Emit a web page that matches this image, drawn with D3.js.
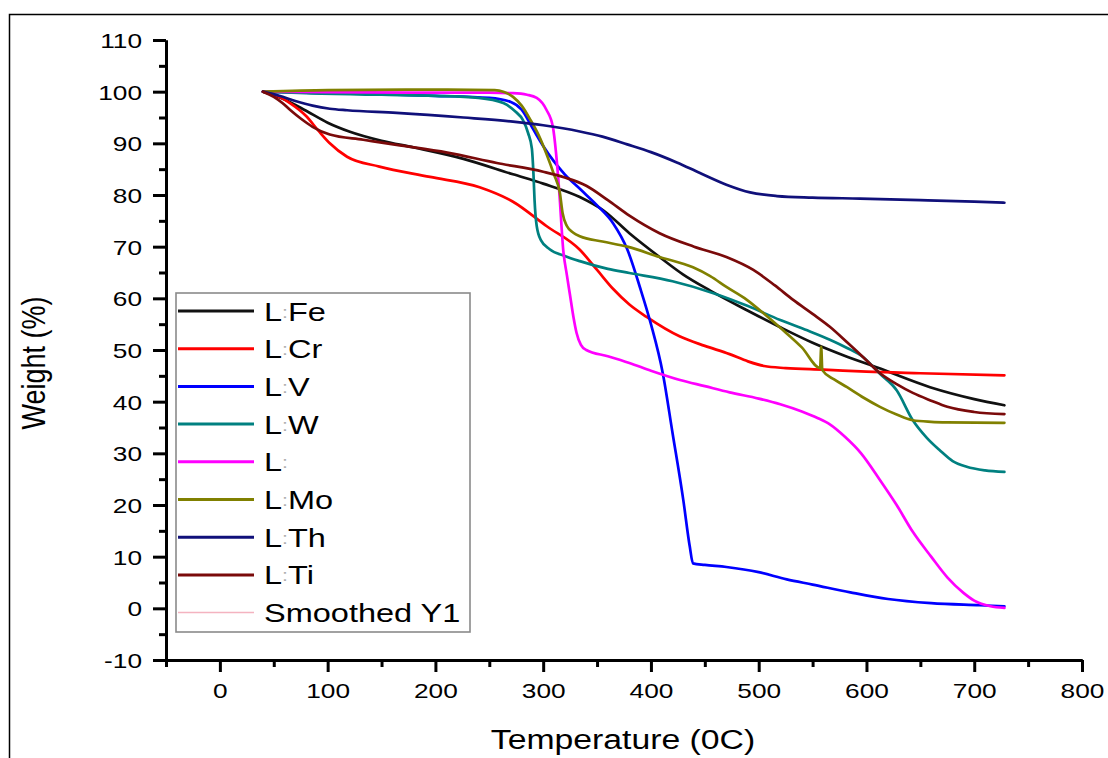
<!DOCTYPE html>
<html><head><meta charset="utf-8">
<script src="https://cdn.jsdelivr.net/npm/d3@7"></script>
<style>body{margin:0;background:#fff}svg{display:block}</style>
</head><body>
<svg id="c" width="1108" height="758"></svg>
<script>
// ---------- data ----------
const xMajorTicks = [0,100,200,300,400,500,600,700,800];
const xMinorTicks = [-50,50,150,250,350,450,550,650,750];
const yMajorTicks = [-10,0,10,20,30,40,50,60,70,80,90,100,110];
const yMinorTicks = [-5,5,15,25,35,45,55,65,75,85,95,105];

const seriesLabels = ["L:Fe","L:Cr","L:V","L:W","L:","L:Mo","L:Th","L:Ti","Smoothed Y1"];
const seriesColors = ["#111111","#ff0000","#0000ff","#008080","#ff00ff","#808000","#10107a","#7a0a0a","#f4b3c0"];

const dataFe = [[40,100],[60,98.5],[80,96.3],[100,94],[120,92.3],[150,90.5],[180,89.2],[226,87],[272,84],[300,82.2],[334,79.6],[356,77],[380,72.6],[408,68],[430,64.6],[455,61.5],[490,57.6],[520,54.4],[550,51.4],[582,48.7],[610,46.6],[659,42.8],[700,40.5],[728,39.3]];
const dataCr = [[40,100],[55,99],[65,97.8],[80,95.3],[92,92.3],[102,90],[118,87.4],[148,85.5],[195,83.5],[241,81.5],[272,78.7],[303,74],[334,69.4],[350,65.5],[365,61.8],[380,58.8],[396,56.4],[427,52.6],[450,50.8],[473,49.2],[490,47.8],[505,46.9],[525,46.5],[560,46.2],[600,45.8],[650,45.5],[728,45.1]];
const dataV = [[40,100],[80,99.8],[150,99.5],[200,99.2],[250,98.8],[270,98],[280,96.5],[290,93],[300,89.5],[310,86.5],[320,84],[335,81],[350,78],[365,74.5],[378,69.5],[390,62],[400,55],[411,45.5],[420,34],[430,21],[436,12],[439,8.7],[450,8.4],[470,8],[500,7],[526,5.6],[550,4.6],[585,3.1],[620,1.8],[660,1],[705,0.6],[728,0.4]];
const dataW = [[40,100],[80,99.7],[150,99.4],[200,99.2],[240,98.8],[263,97.8],[275,96],[281,94.6],[286,92],[289.5,89],[291,84],[292,79],[294,74],[298,71.2],[306,69.5],[320,68.2],[334,67.2],[360,65.7],[380,64.9],[420,63.3],[458,61],[490,58.5],[520,55.8],[545,53.8],[566,52],[582,50.4],[597,48.6],[612,45.5],[628,42.2],[643,36.4],[656,33],[668,30.6],[680,28.5],[693,27.4],[710,26.7],[728,26.4]];
const dataL = [[40,100],[100,99.9],[200,99.8],[250,99.8],[272,99.7],[285,99.4],[294,98.8],[303,96.5],[309,93.2],[312,88],[315,80.4],[318.6,69.4],[322,64.5],[325,60.5],[328,56.5],[331,53.3],[335,51],[340,50],[360,48.8],[380,47.5],[400,46],[427,44.2],[450,43],[473,41.8],[500,40.6],[520,39.5],[540,38.1],[555,36.8],[566,35.6],[580,33.2],[595,30],[612,25],[628,20],[643,14.8],[660,10],[675,6],[690,3],[700,1.5],[715,0.4],[728,0.1]];
const dataMo = [[40,100],[100,100.3],[200,100.4],[255,100.3],[263,100],[272,99],[280,97.3],[288,94.6],[296,91.5],[303,88],[310,84],[315.5,80.4],[318,76.5],[322,74],[328,72.7],[334,72],[355,71],[378,70],[408,68],[439,66],[455,64.3],[470,62.2],[489,59.7],[505,57],[520,54.3],[540,50.5],[557,46.5],[558,50.6],[559,46.1],[570,44.3],[582,42.8],[597,40.8],[612.5,39],[628,37.5],[643,36.4],[660,36.1],[675,36],[728,35.9]];
const dataTh = [[40,100],[55,99.2],[70,98.2],[86,97.3],[102,96.7],[118,96.4],[164,95.9],[226,95],[272,94.2],[300,93.5],[334,92.3],[355,91.3],[378,89.8],[400,88.3],[424,86.3],[445,84.3],[470,82],[492,80.5],[517,79.8],[550,79.5],[594,79.3],[650,79],[700,78.7],[728,78.5]];
const dataTi = [[40,100],[50,99],[58,97.8],[65,96.5],[75,94.8],[86,93.2],[102,91.7],[133,90.7],[164,89.7],[211,88.2],[257,86.2],[300,84.5],[320,83.4],[340,81.8],[360,79],[380,76],[408,72.6],[440,70],[470,68],[495,65.5],[515,62.5],[532,59.7],[550,57],[566,54.5],[582,51.5],[597,48.6],[612,45.6],[628,43.4],[643,41.7],[660,40.2],[675,39],[700,38],[728,37.6]];

const seriesData = [dataFe,dataCr,dataV,dataW,dataL,dataMo,dataTh,dataTi];

// ---------- drawing ----------
const SX = 1.25; // horizontal stretch of the original figure's text
const FONT = "'Liberation Sans', Arial, sans-serif";
const svg = d3.select("#c");

svg.append("rect").attr("x",9.5).attr("y",14.5).attr("width",1200).attr("height",800)
  .attr("fill","#fff").attr("stroke","#000").attr("stroke-width",1.5);

const x = d3.scaleLinear().domain([-50,800]).range([166,1082]);
const y = d3.scaleLinear().domain([-10,110]).range([660,40]);

// curves
const line = d3.line().x(d=>x(d[0])).y(d=>y(d[1])).curve(d3.curveMonotoneX);
const gLines = svg.append("g");
seriesData.forEach((s,i)=>{
  gLines.append("path").attr("d",line(s)).attr("fill","none")
    .attr("stroke",seriesColors[i]).attr("stroke-width",2.7)
    .attr("stroke-linejoin","round").attr("stroke-linecap","round");
});

// axes
function styleAxis(g){
  g.selectAll("path.domain").attr("stroke","#000").attr("stroke-width",3);
  g.selectAll(".tick line").attr("stroke","#000").attr("stroke-width",3);
}
const fmt = d => String(d);
const yMinor = svg.append("g").attr("transform",`translate(${x(-50)},0)`)
  .call(d3.axisLeft(y).tickValues(yMinorTicks).tickSize(7).tickSizeOuter(0).tickFormat(""));
styleAxis(yMinor);
const yMajor = svg.append("g").attr("transform",`translate(${x(-50)},0)`)
  .call(d3.axisLeft(y).tickValues(yMajorTicks).tickSize(13).tickSizeOuter(0).tickPadding(0).tickFormat(fmt));
styleAxis(yMajor);
yMajor.selectAll(".tick text").attr("font-family",FONT).attr("font-size",21).attr("fill","#000")
  .attr("x",-24/SX).attr("dy","0.36em").attr("transform",`scale(${SX},1)`);

const xMinor = svg.append("g").attr("transform",`translate(0,${y(-10)})`)
  .call(d3.axisBottom(x).tickValues(xMinorTicks).tickSize(7).tickSizeOuter(0).tickFormat(""));
styleAxis(xMinor);
const xMajor = svg.append("g").attr("transform",`translate(0,${y(-10)})`)
  .call(d3.axisBottom(x).tickValues(xMajorTicks).tickSize(12).tickSizeOuter(0).tickFormat(fmt));
styleAxis(xMajor);
xMajor.selectAll(".tick text").attr("font-family",FONT).attr("font-size",21).attr("fill","#000")
  .attr("y",38).attr("dy",0).attr("transform",`scale(${SX},1)`);

// axis titles
svg.append("text").attr("transform",`translate(623,749) scale(${SX},1)`)
  .attr("text-anchor","middle").attr("font-family",FONT).attr("font-size",27).text("Temperature (0C)");
svg.append("text").attr("transform",`translate(45,363) scale(${SX},1) rotate(-90)`)
  .attr("text-anchor","middle").attr("font-family",FONT).attr("font-size",27).text("Weight (%)");

// legend
const lg = svg.append("g");
lg.append("rect").attr("x",176).attr("y",293).attr("width",294).attr("height",339)
  .attr("fill","#fff").attr("stroke","#8a8a8a").attr("stroke-width",1.6);
seriesLabels.forEach((lab,i)=>{
  const cy = 311 + i*37.7;
  const last = i===seriesLabels.length-1;
  lg.append("line").attr("x1",178).attr("x2",254).attr("y1",cy).attr("y2",cy)
    .attr("stroke",seriesColors[i]).attr("stroke-width",last?1.5:3);
  const t = lg.append("text").attr("transform",`translate(264,${cy+9.5}) scale(${SX},1)`)
    .attr("font-family",FONT).attr("font-size",26).attr("fill","#000");
  const k = lab.indexOf(":");
  if(k<0){ t.text(lab); }
  else {
    t.append("tspan").text(lab.slice(0,k));
    t.append("tspan").attr("font-size",17).attr("fill","#b0b0b0").attr("dy",-3).text(":");
    t.append("tspan").attr("dy",3).text(lab.slice(k+1));
  }
});
</script>
</body></html>
